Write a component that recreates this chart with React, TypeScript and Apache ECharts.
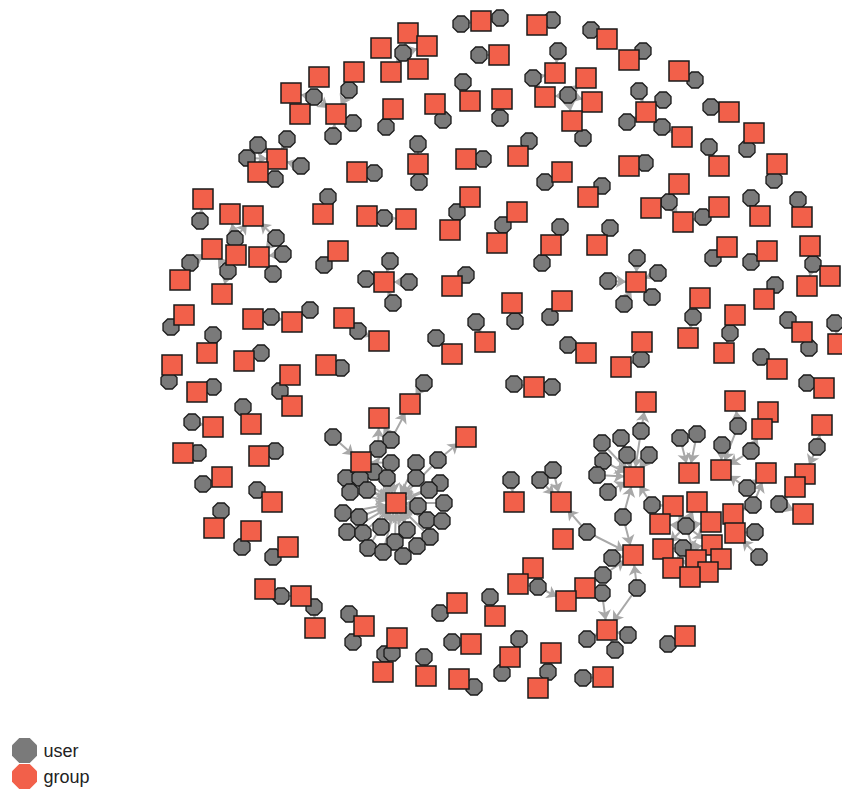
import React, { useEffect, useRef } from 'react';
import * as echarts from 'echarts';

// group nodes: [x, y] in layout space (index = group id)
const groupNodes: [number, number][] = [
  [481, 21], [537, 25], [408, 33], [607, 39], [381, 48], [427, 46], [499, 55], [629, 60], [418, 69], [354, 72],
  [391, 72], [555, 73], [679, 71], [319, 77], [586, 78], [291, 93], [545, 97], [470, 101], [502, 99], [592, 102],
  [435, 104], [393, 109], [300, 114], [336, 114], [646, 112], [729, 112], [572, 121], [754, 133], [682, 137], [518, 156],
  [466, 159], [277, 159], [418, 164], [629, 166], [719, 166], [777, 164], [258, 172], [357, 172], [562, 172], [679, 184],
  [588, 197], [470, 197], [203, 199], [651, 208], [719, 207], [517, 212], [230, 214], [253, 216], [367, 216], [760, 216],
  [802, 217], [406, 219], [683, 222], [450, 230], [497, 243], [551, 245], [597, 245], [727, 247], [212, 249], [338, 251],
  [767, 251], [810, 246], [236, 255], [259, 257], [830, 276], [180, 280], [384, 282], [636, 282], [452, 286], [807, 286],
  [222, 294], [700, 298], [764, 299], [512, 303], [562, 301], [184, 315], [735, 315], [344, 318], [253, 319], [292, 322],
  [802, 332], [688, 338], [379, 341], [485, 342], [642, 342], [838, 344], [207, 353], [724, 353], [452, 354], [586, 353],
  [244, 361], [172, 365], [326, 365], [621, 367], [777, 369], [290, 375], [534, 387], [824, 388], [197, 392], [646, 402],
  [735, 401], [410, 404], [292, 406], [768, 412], [379, 418], [251, 424], [213, 427], [762, 429], [822, 425], [466, 437],
  [183, 453], [259, 456], [361, 462], [689, 473], [721, 470], [766, 473], [805, 474], [634, 477], [222, 477], [795, 487],
  [272, 502], [396, 503], [514, 502], [561, 502], [697, 502], [673, 506], [803, 514], [733, 514], [660, 524], [711, 522],
  [214, 528], [251, 531], [735, 533], [563, 539], [712, 545], [288, 547], [663, 549], [633, 555], [696, 560], [721, 559],
  [533, 568], [673, 568], [708, 572], [690, 577], [518, 584], [585, 588], [265, 589], [301, 596], [566, 601], [457, 603],
  [495, 616], [315, 628], [364, 626], [607, 630], [685, 636], [397, 638], [471, 644], [551, 653], [510, 657], [383, 672],
  [426, 676], [459, 679], [603, 677], [538, 688], [323, 214],
];

// user nodes: [x, y, ids of the groups they point to]
const userNodes: [number, number, number[]][] = [
  [461, 24, [0]], [500, 18, [0]], [552, 20, [1]], [591, 30, [3]], [643, 51, [7]], [403, 53, [2, 5, 8, 10]],
  [479, 55, [6]], [558, 51, [11]], [533, 78, [11, 16]], [695, 80, [12]], [463, 82, [17]], [349, 90, [9, 23]],
  [639, 91, [24]], [568, 95, [14, 16, 19, 26]], [314, 97, [15, 23]], [663, 100, [24]], [711, 107, [25]],
  [500, 118, [18]], [443, 120, [20]], [353, 123, [23]], [627, 122, [24]], [386, 127, [21]], [662, 127, [24, 28]],
  [333, 136, [23]], [287, 139, [31]], [583, 138, [26]], [529, 141, [29]], [418, 144, [32]], [258, 145, [31]],
  [709, 147, [34]], [747, 149, [27]], [247, 158, [31, 36]], [483, 159, [30]], [645, 163, [33]], [301, 166, [31]],
  [374, 173, [37]], [275, 179, [36]], [774, 180, [35]], [419, 182, [32]], [545, 182, [38]], [602, 186, [40]],
  [328, 197, [164]], [751, 198, [49]], [798, 200, [50]], [669, 202, [39, 43, 52]], [457, 212, [41, 53]],
  [703, 217, [44, 52]], [384, 218, [48, 51]], [200, 221, [42]], [503, 225, [45]], [560, 227, [55]], [610, 228, [56]],
  [235, 239, [46, 47, 62]], [276, 238, [47, 63]],
  [190, 263, [58, 65]], [283, 254, [63]], [542, 263, [55]], [713, 258, [57]], [751, 262, [60]], [813, 264, [61, 64, 69]],
  [637, 258, [67]], [390, 261, [66]], [324, 265, [59]], [228, 271, [58, 62, 70]], [273, 274, [63]], [466, 275, [68]],
  [658, 273, [67]], [366, 279, [66]], [608, 281, [67]], [409, 282, [66]], [775, 285, [72]], [652, 297, [67]],
  [393, 303, [66]], [624, 304, [67]], [310, 310, [79]], [271, 317, [78, 79]], [693, 317, [71, 81]], [550, 317, [74]],
  [515, 321, [73]], [476, 322, [83]], [788, 320, [80]], [835, 323, [85]], [171, 327, [75]], [358, 331, [77, 82]],
  [730, 333, [76, 87]], [213, 335, [86]], [436, 338, [88]], [568, 345, [89]], [809, 348, [80]], [261, 353, [90]],
  [641, 359, [84, 93]], [761, 357, [94]], [341, 368, [92]], [169, 381, [91]], [807, 383, [97]], [514, 384, [96]],
  [552, 387, [96]], [424, 383, [101]], [213, 387, [98]], [280, 391, [95, 102]], [243, 407, [105]], [192, 422, [106]],
  [641, 431, [99, 117]], [738, 426, [100, 114]], [751, 451, [107, 114]], [333, 437, [112]], [391, 440, [101, 104]],
  [621, 438, [117]], [602, 443, [117]], [680, 438, [113]], [697, 434, [113]], [722, 445, [114]], [817, 447, [108, 116]],
  [378, 449, [104, 112]], [275, 451, [111]], [198, 453, [110]], [627, 455, [117]], [649, 455, [117]],
  [438, 460, [109, 121]], [391, 463, [112, 121]], [416, 463, [121]], [603, 461, [117]],
  [374, 472, [121]], [346, 478, [112, 121]], [360, 478, [112, 121]], [387, 478, [121]], [416, 478, [121]],
  [440, 483, [121]], [429, 490, [121]], [350, 492, [121]], [367, 490, [121]], [418, 506, [121]], [444, 503, [121]],
  [343, 513, [121]], [359, 517, [121]], [427, 520, [121]], [442, 521, [121]], [347, 532, [121]], [363, 533, [121]],
  [381, 527, [121]], [407, 530, [121]], [430, 537, [121]], [395, 542, [121]], [368, 548, [121]], [383, 552, [121]],
  [417, 546, [121]], [403, 556, [121]],
  [203, 484, [118]], [257, 490, [120]], [221, 511, [130]], [242, 547, [131]], [273, 557, [135]], [281, 596, [146, 147]],
  [314, 607, [147, 151]], [349, 614, [152]], [353, 642, [152]], [385, 654, [159]],
  [511, 480, [122]], [540, 480, [123]], [553, 470, [123]], [597, 475, [117]], [608, 492, [117]], [587, 532, [123, 137]],
  [623, 517, [117, 137]], [612, 558, [137]], [603, 575, [137, 145]], [538, 587, [144, 148]], [602, 593, [145, 153]],
  [637, 588, [137, 153]], [587, 639, [153]], [615, 650, [153]], [628, 635, [153]], [440, 613, [149]], [490, 597, [150]],
  [392, 653, [155]], [452, 642, [156]], [519, 639, [158]], [502, 673, [158]], [548, 672, [157, 163]], [424, 657, [160]],
  [474, 687, [161]], [583, 678, [162]], [668, 644, [154]],
  [747, 488, [114, 115]], [753, 505, [115, 127]], [779, 504, [119, 126]], [755, 532, [132]], [759, 557, [132]],
  [652, 505, [117, 125]], [686, 526, [124, 125, 128, 129, 134, 136, 138]], [683, 548, [134, 136, 138, 141, 142, 143]],
];

const categoryNames = ['user', 'group'];
const categoryColors = ['#7a7a7a', '#f2604a'];

const OCTAGON = 'path://M29,0 L71,0 L100,29 L100,71 L71,100 L29,100 L0,71 L0,29 Z';

export default function App() {
  const ref = useRef<HTMLDivElement>(null);

  useEffect(() => {
    if (!ref.current) return;
    const chart = echarts.init(ref.current, null, { renderer: 'svg' });

    const allX = [...groupNodes.map((g) => g[0]), ...userNodes.map((u) => u[0])];
    const allY = [...groupNodes.map((g) => g[1]), ...userNodes.map((u) => u[1])];
    const minX = Math.min(...allX);
    const maxX = Math.max(...allX);
    const minY = Math.min(...allY);
    const maxY = Math.max(...allY);

    const nodes = [
      ...userNodes.map((u, i) => ({
        name: 'u' + i,
        x: u[0],
        y: u[1],
        category: 0,
        symbol: OCTAGON,
        symbolSize: 16,
      })),
      ...groupNodes.map((g, i) => ({
        name: 'g' + i,
        x: g[0],
        y: g[1],
        category: 1,
        symbol: 'rect',
        symbolSize: 20,
      })),
    ];

    const links = userNodes.flatMap((u, i) =>
      u[2].map((t) => ({ source: 'u' + i, target: 'g' + t }))
    );

    chart.setOption({
      animation: false,
      backgroundColor: '#ffffff',
      legend: {
        data: categoryNames,
        orient: 'vertical',
        left: 7,
        top: 733,
        itemWidth: 26,
        itemHeight: 25,
        itemGap: 1,
        icon: OCTAGON,
        itemStyle: { borderWidth: 0 },
        textStyle: {
          fontSize: 18,
          color: '#222222',
          fontFamily: 'Liberation Sans, Arial, sans-serif',
          padding: [0, 0, 0, 1],
        },
        selectedMode: false,
      },
      series: [
        {
          type: 'graph',
          layout: 'none',
          left: minX,
          top: minY,
          width: maxX - minX,
          height: maxY - minY,
          roam: false,
          data: nodes,
          links,
          categories: categoryNames.map((name, i) => ({
            name,
            itemStyle: {
              color: categoryColors[i],
              borderColor: '#1a1a1a',
              borderWidth: i === 0 ? 1.3 : 1.5,
            },
          })),
          edgeSymbol: ['none', 'arrow'],
          edgeSymbolSize: [0, 10],
          lineStyle: { color: '#a8a8a8', width: 2, opacity: 1, curveness: 0 },
          label: { show: false },
          emphasis: { disabled: true },
        },
      ],
    });

    return () => chart.dispose();
  }, []);

  return (
    <div
      ref={ref}
      style={{ position: 'fixed', left: 0, top: 0, width: 842, height: 810 }}
    />
  );
}
